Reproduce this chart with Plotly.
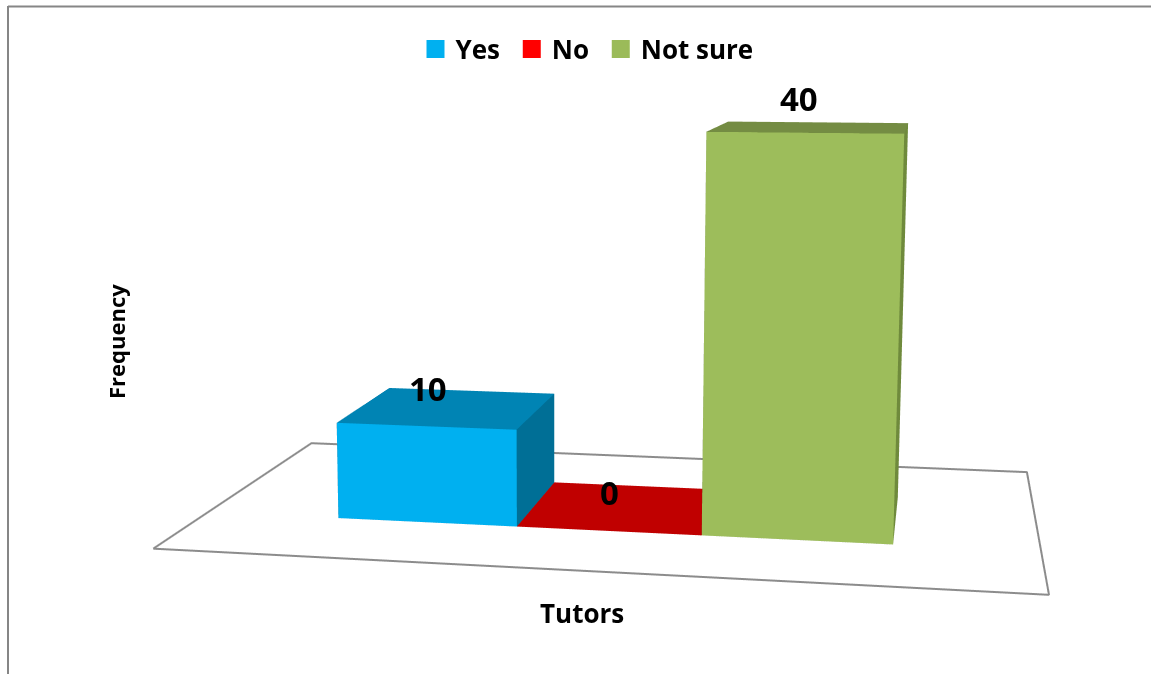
import plotly.graph_objects as go

categories = ["Yes", "No", "Not sure"]
values = [10, 0, 40]
front_colors = ["#00B0F0", "#FF0000", "#9DBD5B"]
top_colors = ["#0084B4", "#C00000", "#748C43"]
side_colors = ["#006F96", "#A00000", "#6F8A3C"]
legend_colors = ["#00B0F0", "#FF0000", "#9BBB59"]
label_shifts = [(-22, 19), (-14, 15), (-12, 29)]

GAP_WIDTH = 1.5
GAP_DEPTH = 1.5
VMAX = 40
FONT = "Open Sans"
# oblique scene: floor (u, v in 0..1) and height (value) to scene coordinates
AX, BX, BY, LX, LY, LZ = 2.0, 0.17232, 0.52233, -0.02166, 0.28536, 0.90448


def sx(u, v, w):
    return AX * u + BX * v + LX * w / VMAX


def sy(v, w):
    return BY * v + LY * w / VMAX


fig = go.Figure()
bar_w = 1 / (len(values) + GAP_WIDTH)
bar_d = 1 / (1 + GAP_DEPTH)
v0 = GAP_DEPTH / 2 * bar_d
v1 = v0 + bar_d

for i, (cat, val) in enumerate(zip(categories, values)):
    u0 = (GAP_WIDTH / 2 + i) * bar_w
    u1 = u0 + bar_w
    corners = [(u0, v0, 0), (u1, v0, 0), (u1, v1, 0), (u0, v1, 0),
               (u0, v0, val), (u1, v0, val), (u1, v1, val), (u0, v1, val)]
    # faces: bottom, top, front, back, left, right
    tris = [(0, 1, 2), (0, 2, 3), (4, 5, 6), (4, 6, 7), (0, 1, 5), (0, 5, 4),
            (3, 2, 6), (3, 6, 7), (0, 3, 7), (0, 7, 4), (1, 2, 6), (1, 6, 5)]
    fc = [top_colors[i]] * 4 + [front_colors[i]] * 2 + [side_colors[i]] * 6
    fig.add_trace(go.Mesh3d(
        x=[sx(u, v, w) for u, v, w in corners],
        y=[sy(v, w) for u, v, w in corners],
        z=[w for _, _, w in corners],
        i=[t[0] for t in tris], j=[t[1] for t in tris], k=[t[2] for t in tris],
        facecolor=fc, flatshading=True, name=cat, showlegend=False,
        lighting=dict(ambient=1, diffuse=0, specular=0, roughness=1, fresnel=0),
        hovertemplate=f"{cat}: {val}<extra></extra>",
    ))

floor_u = [0, 1, 1, 0, 0]
floor_v = [0, 0, 1, 1, 0]
fig.add_trace(go.Scatter3d(
    x=[sx(u, v, 0) for u, v in zip(floor_u, floor_v)],
    y=[sy(v, 0) for v in floor_v],
    z=[0] * 5, mode="lines", line=dict(color="#8C8C8C", width=4),
    showlegend=False, hoverinfo="skip",
))

# the two spacing characters widen the legend gaps to those of the reference
legend_names = [categories[0] + "\u00a0", categories[1] + "\u00a0", categories[2]]
for name, col in zip(legend_names, legend_colors):
    fig.add_trace(go.Scatter(
        x=[None], y=[None], mode="markers", name=name,
        marker=dict(symbol="square", size=16, color=col, line=dict(color=col, width=2)),
    ))

annots = []
for i, val in enumerate(values):
    u_mid = (GAP_WIDTH / 2 + i + 0.5) * bar_w
    annots.append(dict(
        x=sx(u_mid, 0.5, val), y=sy(0.5, val), z=val, text=str(val), showarrow=False,
        xshift=label_shifts[i][0], yshift=label_shifts[i][1],
        font=dict(family=FONT, size=33, color="black", weight=700),
    ))

hidden = dict(visible=False, showgrid=False, zeroline=False, showbackground=False,
              showspikes=False, autorange=False)
xlo, xhi = LX, AX + BX
yhi = BY + LY
fig.update_layout(
    width=1151, height=674, margin=dict(l=0, r=0, t=0, b=0),
    paper_bgcolor="white", plot_bgcolor="white",
    xaxis=dict(visible=False), yaxis=dict(visible=False),
    scene=dict(
        domain=dict(x=[0, 1], y=[0, 1]),
        xaxis=dict(range=[xlo, xhi], **hidden),
        yaxis=dict(range=[0, yhi], **hidden),
        zaxis=dict(range=[0, VMAX], **hidden),
        aspectmode="manual",
        aspectratio=dict(x=xhi - xlo, y=yhi, z=LZ),
        camera=dict(
            eye=dict(x=0.03393, y=-1.90229, z=0.69168),
            center=dict(x=-0.12156, y=-0.02200, z=-0.04223),
            up=dict(x=-0.02931, y=0.36135, z=0.93197),
            projection=dict(type="perspective"),
        ),
        annotations=annots,
    ),
    legend=dict(orientation="h", x=(575.5 + 11.5) / 1151, xanchor="center", y=1 - 49 / 674,
                yanchor="middle",
                font=dict(family=FONT, size=26, color="black", weight=700),
                bgcolor="rgba(0,0,0,0)", itemclick=False, itemdoubleclick=False),
    annotations=[
        dict(text="Tutors", x=582 / 1151, y=1 - 613 / 674, xref="paper", yref="paper",
             xanchor="center", yanchor="middle", showarrow=False,
             font=dict(family=FONT, size=26, color="black", weight=700)),
        dict(text="Frequency", x=116 / 1151, y=1 - 342 / 674, xref="paper", yref="paper",
             xanchor="center", yanchor="middle", showarrow=False, textangle=-90,
             font=dict(family=FONT, size=22, color="black", weight=700)),
    ],
    shapes=[
        dict(type="line", xref="paper", yref="paper", x0=8 / 1151, x1=1, y0=1 - 6.5 / 674,
             y1=1 - 6.5 / 674, line=dict(color="#868686", width=2)),
        dict(type="line", xref="paper", yref="paper", x0=8 / 1151, x1=8 / 1151, y0=0,
             y1=1 - 6 / 674, line=dict(color="#868686", width=2)),
    ],
)
fig.write_html("out.html", config={"displayModeBar": False},
               post_script="document.body.style.margin='0';document.body.style.overflow='hidden';")
